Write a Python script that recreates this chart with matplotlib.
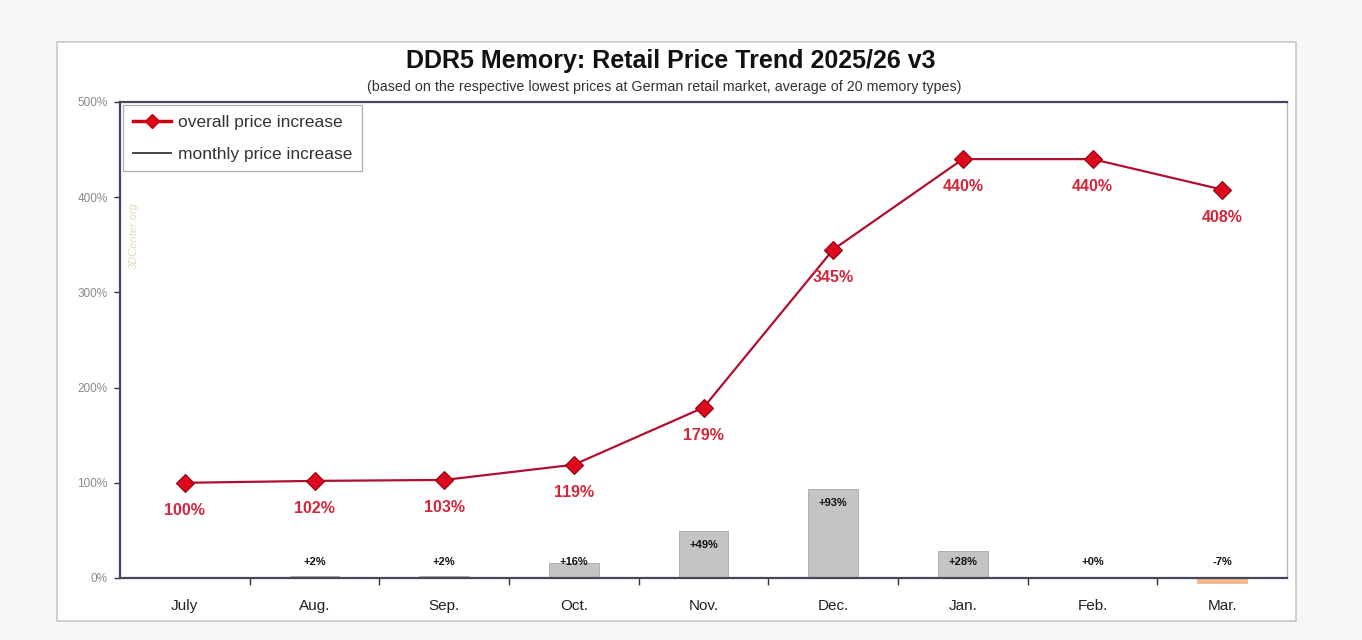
import matplotlib
matplotlib.use("Agg")
import matplotlib.pyplot as plt
from matplotlib.patches import Rectangle
from matplotlib.lines import Line2D

plt.rcParams['font.family'] = ['Liberation Sans', 'DejaVu Sans']

months = ["July", "Aug.", "Sep.", "Oct.", "Nov.", "Dec.", "Jan.", "Feb.", "Mar."]
overall = [100, 102, 103, 119, 179, 345, 440, 440, 408]
overall_labels = ["100%", "102%", "103%", "119%", "179%", "345%", "440%", "440%", "408%"]
monthly = [None, 2, 2, 16, 49, 93, 28, 0, -7]
monthly_labels = ["", "+2%", "+2%", "+16%", "+49%", "+93%", "+28%", "+0%", "-7%"]
yticks = [0, 100, 200, 300, 400, 500]
ytick_labels = ["0%", "100%", "200%", "300%", "400%", "500%"]

fig = plt.figure(figsize=(13.62, 6.4), dpi=100)
fig.patch.set_facecolor("#f7f7f5")
panel = Rectangle((57/1362, 1-621/640), (1296-57)/1362, (621-42)/640,
                  transform=fig.transFigure, facecolor="white",
                  edgecolor="#c8c8c8", linewidth=1.2, zorder=-5)
fig.patches.append(panel)

ax = fig.add_axes([120/1362, 1-578/640, (1287-120)/1362, (578-102)/640])
ax.set_zorder(1)
ax.set_facecolor("white")
x = list(range(len(months)))

# bars
for i, v in enumerate(monthly):
    if v is None:
        continue
    col = "#c4c4c4" if v >= 0 else "#f5b88a"
    ec = "#a8a8a8" if v >= 0 else "#f5b88a"
    if v != 0:
        ax.bar(i, v if v > 0 else v * 0.7, width=0.385, color=col, edgecolor=ec,
               linewidth=0.6, zorder=2, clip_on=False)
    ly = max(v - 14, 17)
    ax.text(i, ly, monthly_labels[i], ha="center", va="center",
            fontsize=8, fontweight="bold", color="#111111", zorder=4)

# line
ax.plot(x, overall, color="#b01030", linewidth=1.6, marker="D", markersize=9,
        markerfacecolor="#dd0a1e", markeredgecolor="#8a0010", markeredgewidth=0.8,
        zorder=3)
for i, v in enumerate(overall):
    ax.annotate(overall_labels[i], (i, v), xytext=(0, -20), textcoords="offset points",
                ha="center", va="center", fontsize=11.5, fontweight="bold",
                color="#d4263c", zorder=4)

ax.set_xlim(-0.5, len(months) - 0.5)
ax.set_ylim(0, 500)
ax.set_yticks(yticks)
ax.set_yticklabels(ytick_labels, fontsize=8.5, color="#8a8a8a")
ax.tick_params(axis="y", direction="out", length=4, width=1, color="#333333", pad=5)
ax.set_xticks(x)
ax.set_xticklabels(months, fontsize=11, color="#222222")
ax.tick_params(axis="x", which="major", length=0, pad=15)
ax.set_xticks([i + 0.5 for i in x[:-1]], minor=True)
ax.tick_params(axis="x", which="minor", direction="out", length=5, width=1, color="#333333")

for side in ["left", "bottom", "top"]:
    ax.spines[side].set_color("#44485a")
    ax.spines[side].set_linewidth(1.6)
ax.spines["right"].set_color("#b8b8b8")
ax.spines["right"].set_linewidth(1.0)

# watermark
ax.text(0.012, 0.72, "3DCenter.org", transform=ax.transAxes, rotation=90,
        fontsize=8, style="italic", color="#e8dcc0", ha="center", va="center")

handles = [Line2D([], [], color="#cc0010", linewidth=2.5, marker="D", markersize=7,
                  markerfacecolor="#dd0a1e", markeredgecolor="#cc0010"),
           Line2D([], [], color="#444444", linewidth=1.4)]
leg = ax.legend(handles, ["overall price increase", "monthly price increase"],
                loc="upper left", bbox_to_anchor=(0.0, 1.0), fontsize=12.5,
                frameon=True, fancybox=False, shadow=False, handlelength=2.2,
                handletextpad=0.4, borderpad=0.55, labelspacing=0.95, borderaxespad=0.2)
leg.get_frame().set_edgecolor("#9a9a9a")
leg.get_frame().set_linewidth(0.9)
for t in leg.get_texts():
    t.set_color("#333333")

fig.text(671/1362, 1-61/640, "DDR5 Memory: Retail Price Trend 2025/26 v3",
         ha="center", va="center", fontsize=18, fontweight="bold", color="#111111")
fig.text(664/1362, 1-87/640,
         "(based on the respective lowest prices at German retail market, average of 20 memory types)",
         ha="center", va="center", fontsize=10.3, color="#333333")

fig.savefig("out.png", dpi=100, facecolor=fig.get_facecolor())
